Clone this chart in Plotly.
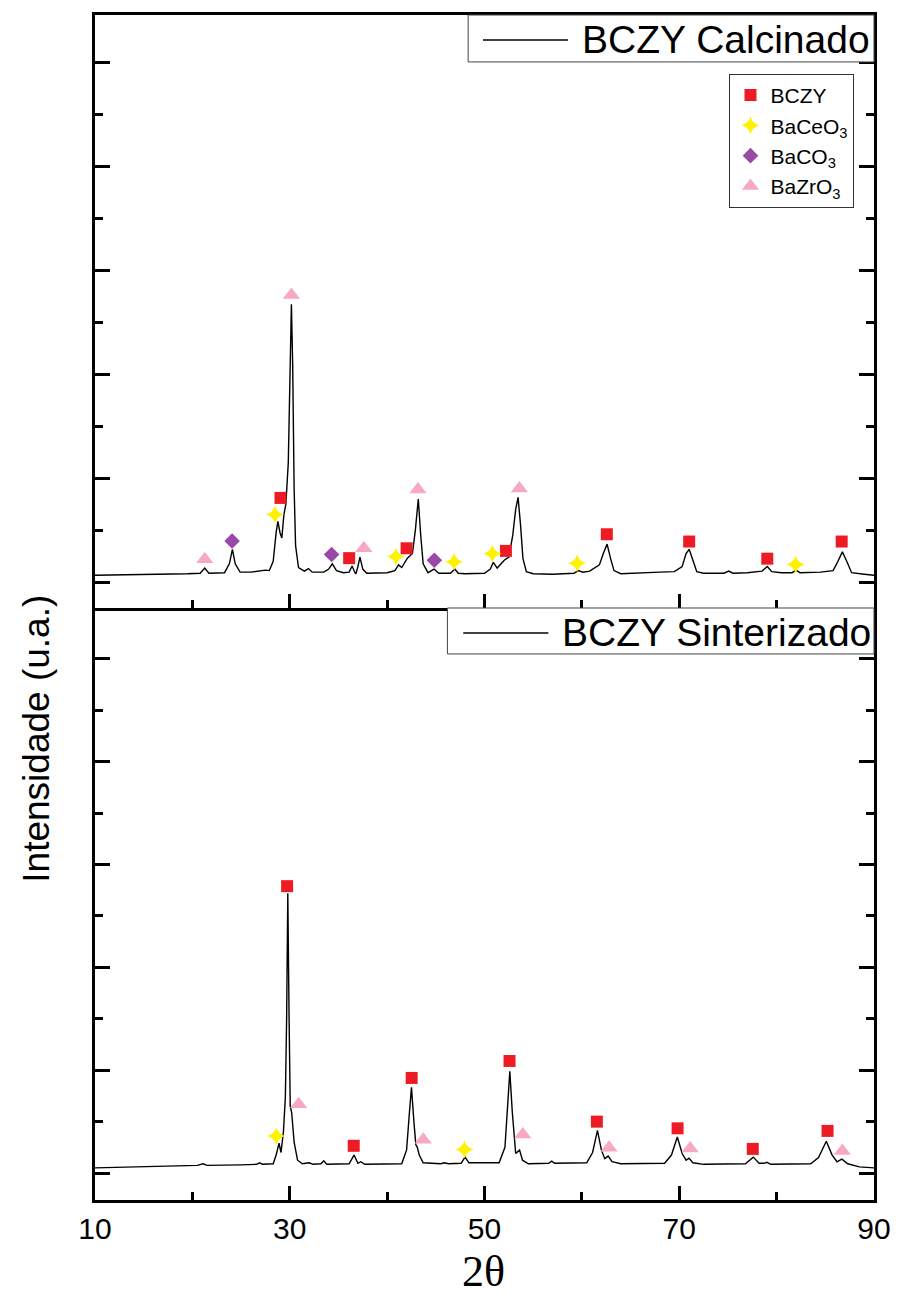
import plotly.graph_objects as go
from plotly.subplots import make_subplots

# ---------------- data (arbitrary intensity units) ----------------
two_theta_calc = [10.0, 15.0, 19.5, 20.8, 21.27, 21.7, 23.3, 23.8, 24.11, 24.4, 24.9, 26.0, 27.0, 27.5,
                  27.9, 28.3, 28.6, 28.78, 29.0, 29.19, 29.4, 29.6, 29.85, 30.0, 30.17, 30.3, 30.45, 30.6,
                  30.9, 31.5, 31.93, 32.3, 33.5, 34.0, 34.37, 34.8, 35.5, 36.1, 36.4, 36.7, 36.8, 37.0,
                  37.21, 37.5, 37.9, 40.0, 40.8, 41.17, 41.5, 42.08, 42.6, 42.9, 43.2, 43.45, 43.7, 44.2,
                  44.82, 45.3, 46.5, 46.95, 47.3, 48.0, 50.0, 50.6, 50.91, 51.3, 51.7, 52.03, 52.5, 52.9,
                  53.2, 53.45, 53.7, 53.95, 54.3, 55.0, 57.0, 59.2, 59.64, 60.1, 60.8, 61.17, 61.8, 62.2,
                  62.59, 62.95, 63.3, 64.0, 66.0, 68.0, 69.5, 70.3, 70.7, 71.02, 71.35, 71.8, 72.5, 74.6,
                  75.08, 75.5, 77.0, 78.5, 79.04, 79.5, 80.5, 81.6, 81.98, 82.4, 84.5, 85.8, 86.3, 86.75,
                  87.2, 87.7, 89.0, 90.0]
int_calc = [0.13, 0.14, 0.16, 0.17, 0.27, 0.17, 0.18, 0.35, 0.63, 0.35, 0.19, 0.19, 0.21, 0.23,
            0.22, 0.40, 0.95, 1.17, 0.95, 0.85, 1.30, 1.50, 2.30, 4.00, 5.35, 4.20, 1.80, 0.70,
            0.28, 0.21, 0.26, 0.19, 0.19, 0.25, 0.35, 0.22, 0.18, 0.19, 0.31, 0.18, 0.16, 0.30,
            0.48, 0.25, 0.17, 0.18, 0.22, 0.33, 0.28, 0.46, 0.55, 1.00, 1.60, 0.90, 0.35, 0.18,
            0.25, 0.17, 0.17, 0.25, 0.17, 0.16, 0.17, 0.25, 0.38, 0.27, 0.36, 0.42, 0.48, 0.90,
            1.40, 1.63, 1.10, 0.45, 0.20, 0.16, 0.15, 0.17, 0.22, 0.19, 0.21, 0.25, 0.33, 0.55,
            0.73, 0.45, 0.22, 0.16, 0.18, 0.19, 0.20, 0.30, 0.55, 0.63, 0.45, 0.20, 0.17, 0.17,
            0.21, 0.17, 0.18, 0.21, 0.30, 0.20, 0.18, 0.18, 0.23, 0.18, 0.19, 0.22, 0.40, 0.58,
            0.40, 0.18, 0.15, 0.13]

two_theta_sint = [10.0, 15.0, 20.5, 21.1, 21.5, 25.0, 26.6, 26.9, 27.2, 28.3, 28.6, 28.9, 29.1, 29.35,
                  29.55, 29.68, 29.80, 29.92, 30.05, 30.2, 30.45, 30.8, 31.3, 32.0, 32.4, 33.2, 33.5, 33.8,
                  36.1, 36.6, 37.0, 37.3, 37.7, 41.5, 42.0, 42.3, 42.5, 42.75, 42.95, 43.1, 43.3, 43.7,
                  45.5, 45.9, 46.3, 47.6, 48.0, 48.4, 51.5, 52.1, 52.4, 52.6, 52.85, 53.2, 53.6, 53.9,
                  54.5, 56.6, 56.9, 57.2, 60.5, 61.1, 61.6, 62.0, 62.35, 62.7, 63.1, 64.0, 68.5, 69.2,
                  69.8, 70.3, 70.7, 71.0, 71.4, 72.5, 76.8, 77.6, 78.2, 78.7, 79.0, 79.4, 83.5, 84.3,
                  85.1, 85.7, 86.2, 86.7, 87.3, 88.5, 90.0]
int_sint = [0.10, 0.12, 0.15, 0.18, 0.15, 0.16, 0.17, 0.20, 0.17, 0.18, 0.35, 0.58, 0.40, 0.80,
            1.48, 3.00, 5.44, 3.20, 1.30, 1.17, 0.60, 0.25, 0.18, 0.20, 0.17, 0.18, 0.24, 0.17,
            0.18, 0.35, 0.19, 0.22, 0.17, 0.18, 0.45, 1.20, 1.67, 1.00, 0.55, 0.50, 0.35, 0.20,
            0.18, 0.20, 0.18, 0.19, 0.31, 0.20, 0.20, 0.50, 1.50, 1.98, 1.20, 0.38, 0.45, 0.25,
            0.18, 0.19, 0.23, 0.19, 0.20, 0.40, 0.83, 0.45, 0.28, 0.33, 0.22, 0.18, 0.19, 0.35,
            0.70, 0.38, 0.25, 0.29, 0.20, 0.17, 0.18, 0.31, 0.19, 0.19, 0.21, 0.17, 0.18, 0.30,
            0.62, 0.35, 0.22, 0.27, 0.18, 0.12, 0.10]

# phase identification markers (2theta, intensity)
calc_bczy_x = [29.05, 36.1, 42.0, 52.2, 62.56, 71.02, 79.04, 86.68]
calc_bczy_y = [1.62, 0.46, 0.65, 0.60, 0.92, 0.78, 0.45, 0.78]
calc_baceo3_x = [28.48, 40.9, 46.88, 50.81, 59.51, 81.95]
calc_baceo3_y = [1.30, 0.49, 0.39, 0.55, 0.36, 0.34]
calc_baco3_x = [24.08, 34.30, 44.85]
calc_baco3_y = [0.79, 0.53, 0.42]
calc_bazro3_x = [21.27, 30.17, 37.61, 43.17, 53.58]
calc_bazro3_y = [0.44, 5.53, 0.65, 1.78, 1.80]

sint_bczy_x = [29.73, 36.57, 42.52, 52.57, 61.54, 69.83, 77.55, 85.23]
sint_bczy_y = [5.58, 0.53, 1.85, 2.18, 1.00, 0.87, 0.47, 0.82]
sint_baceo3_x = [28.61, 47.94]
sint_baceo3_y = [0.72, 0.46]
sint_bazro3_x = [30.91, 43.71, 53.93, 62.79, 71.12, 86.75]
sint_bazro3_y = [1.34, 0.65, 0.75, 0.49, 0.48, 0.43]

phase_names = ["BCZY", "BaCeO<sub>3</sub>", "BaCO<sub>3</sub>", "BaZrO<sub>3</sub>"]
sample_names = ["BCZY Calcinado", "BCZY Sinterizado"]
x_tick_vals = [10, 30, 50, 70, 90]
x_tick_text = ["10", "30", "50", "70", "90"]

# ---------------- styles ----------------
RED = "#ED1C24"
YELLOW = "#FFF200"
PURPLE = "#9A48A8"
PINK = "#F7A8C6"
FONT = "Arial, Liberation Sans, sans-serif"

fig = make_subplots(rows=2, cols=1, shared_xaxes=True, vertical_spacing=0)

fig.add_trace(go.Scatter(x=two_theta_calc, y=int_calc, mode="lines",
                         line=dict(color="black", width=1.4), showlegend=False,
                         name=sample_names[0]), row=1, col=1)
fig.add_trace(go.Scatter(x=two_theta_sint, y=int_sint, mode="lines",
                         line=dict(color="black", width=1.4), showlegend=False,
                         name=sample_names[1]), row=2, col=1)

styles = [dict(symbol="square", color=RED, size=12),
          dict(symbol="star-diamond", color=YELLOW, size=13),
          dict(symbol="diamond", color=PURPLE, size=12),
          dict(symbol="triangle-up", color=PINK, size=15)]

calc_sets = [(calc_bczy_x, calc_bczy_y), (calc_baceo3_x, calc_baceo3_y),
             (calc_baco3_x, calc_baco3_y), (calc_bazro3_x, calc_bazro3_y)]
sint_sets = [(sint_bczy_x, sint_bczy_y), (sint_baceo3_x, sint_baceo3_y),
             None, (sint_bazro3_x, sint_bazro3_y)]

for i, (xs, ys) in enumerate(calc_sets):
    st = styles[i]
    fig.add_trace(go.Scatter(x=xs, y=ys, mode="markers", name=phase_names[i],
                             legendgroup=phase_names[i], showlegend=True,
                             marker=dict(symbol=st["symbol"], color=st["color"], size=st["size"],
                                         line=dict(width=0)),
                             cliponaxis=False), row=1, col=1)
for i, s in enumerate(sint_sets):
    if s is None:
        continue
    xs, ys = s
    st = styles[i]
    fig.add_trace(go.Scatter(x=xs, y=ys, mode="markers", name=phase_names[i],
                             legendgroup=phase_names[i], showlegend=False,
                             marker=dict(symbol=st["symbol"], color=st["color"], size=st["size"],
                                         line=dict(width=0)),
                             cliponaxis=False), row=2, col=1)

split = (1200 - 607) / 1187.0

fig.update_xaxes(range=[10, 90], tickmode="array", tickvals=x_tick_vals, ticktext=x_tick_text,
                 ticks="inside", ticklen=14, tickwidth=3, tickcolor="black",
                 minor=dict(dtick=10, tick0=10, ticks="inside", ticklen=8, tickwidth=3, tickcolor="black"),
                 showline=True, linecolor="black", linewidth=3, showgrid=False, zeroline=False,
                 tickfont=dict(family=FONT, size=30, color="black"))
fig.update_xaxes(showticklabels=False, mirror=True, row=1, col=1)
fig.update_xaxes(mirror=False, row=2, col=1)
fig.update_yaxes(showticklabels=False, tick0=0, dtick=2, ticks="inside", ticklen=15, tickwidth=3,
                 tickcolor="black",
                 minor=dict(dtick=1, tick0=0, ticks="inside", ticklen=8, tickwidth=3, tickcolor="black"),
                 showline=True, linecolor="black", linewidth=3, mirror="ticks",
                 showgrid=False, zeroline=False)
fig.update_yaxes(range=[-0.5, 10.92], domain=[split, 1.0], row=1, col=1)
fig.update_yaxes(range=[-0.524, 10.99], domain=[0.0, split], row=2, col=1)

# sample legend boxes (frames with a line sample)
shapes = [
    dict(type="rect", xref="paper", yref="paper", x0=0.479, x1=1.0, y0=0.9604, y1=1.0,
         line=dict(color="#444", width=1), fillcolor="white", layer="above"),
    dict(type="line", xref="paper", yref="paper", x0=0.4981, x1=0.6073, y0=0.9789, y1=0.9789,
         line=dict(color="black", width=1.5)),
    dict(type="rect", xref="paper", yref="paper", x0=0.4524, x1=1.0, y0=0.4608, y1=split,
         line=dict(color="#444", width=1), fillcolor="white", layer="above"),
    dict(type="line", xref="paper", yref="paper", x0=0.4727, x1=0.5820, y0=0.4785, y1=0.4785,
         line=dict(color="black", width=1.5)),
]

annotations = [
    dict(text=sample_names[0], xref="paper", yref="paper", x=0.6226, y=0.9795,
         xanchor="left", yanchor="middle", showarrow=False,
         font=dict(family=FONT, size=39, color="black")),
    dict(text=sample_names[1], xref="paper", yref="paper", x=0.5972, y=0.4790,
         xanchor="left", yanchor="middle", showarrow=False,
         font=dict(family=FONT, size=39, color="black")),
    dict(text="Intensidade (u.a.)", xref="paper", yref="paper", x=-0.0762, y=0.389,
         xanchor="center", yanchor="middle", textangle=-90, showarrow=False,
         font=dict(family=FONT, size=37, color="black")),
    dict(text="2θ", xref="paper", yref="paper", x=0.499, y=-0.0825,
         xanchor="center", yanchor="bottom", showarrow=False,
         font=dict(family="Liberation Serif, Times New Roman, serif", size=44, color="black")),
]

fig.update_layout(
    width=903, height=1299,
    margin=dict(l=95, r=21, t=13, b=99),
    plot_bgcolor="white", paper_bgcolor="white",
    shapes=shapes, annotations=annotations,
    showlegend=True,
    legend=dict(x=0.8145, y=0.9503, xanchor="left", yanchor="top",
                bordercolor="#333", borderwidth=1, bgcolor="white",
                font=dict(family=FONT, size=21, color="black"),
                itemsizing="trace", tracegroupgap=0, itemwidth=30),
)

fig.write_html("out.html")
